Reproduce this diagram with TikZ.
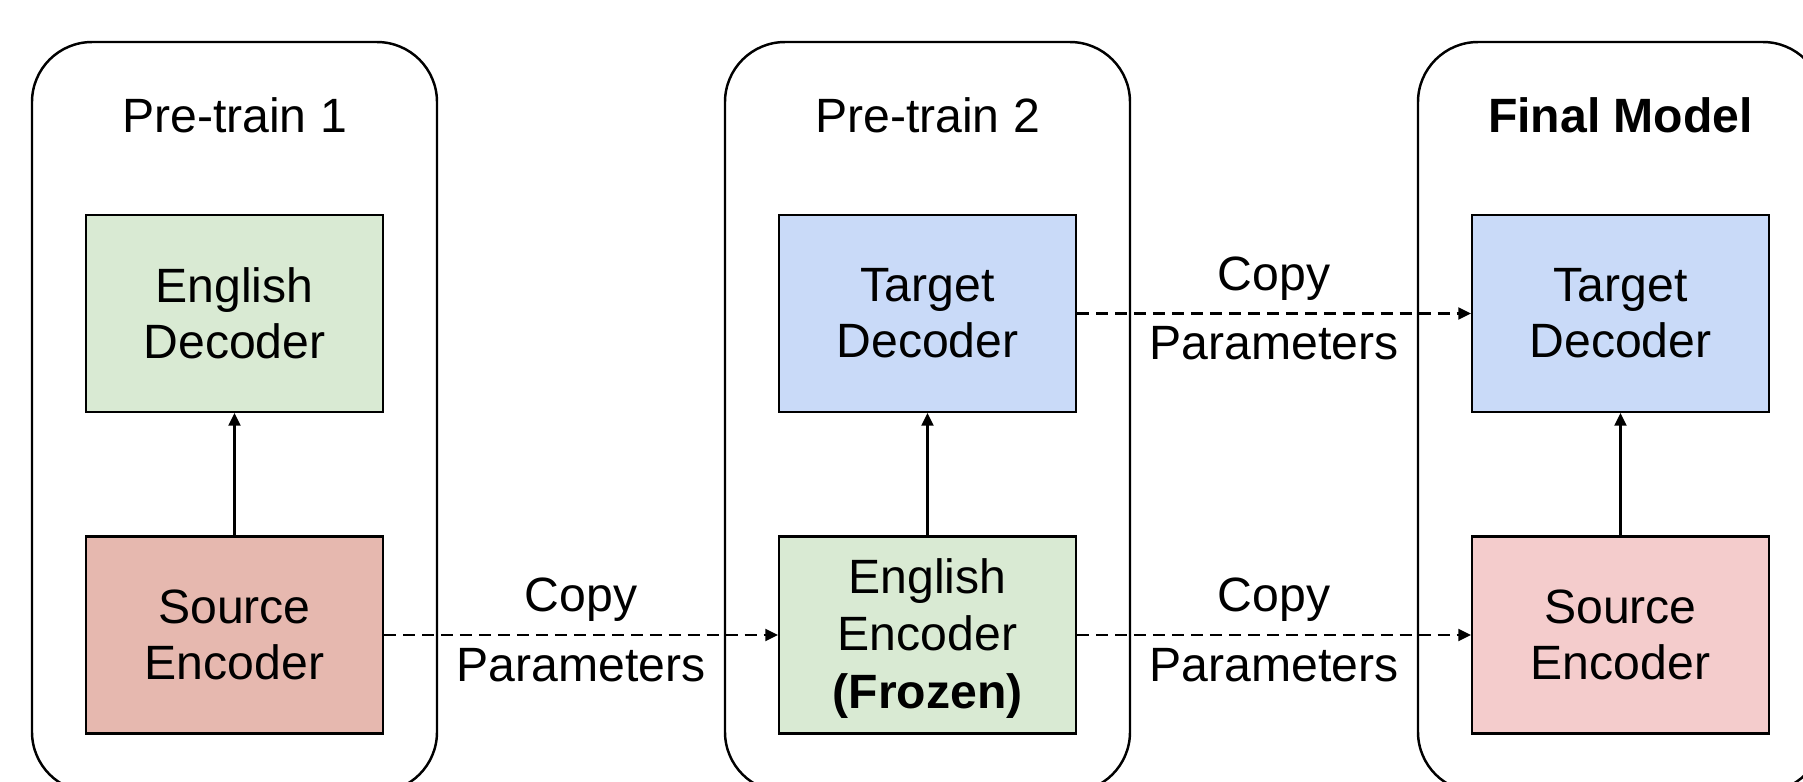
\documentclass[tikz,border=0pt]{standalone}
\usepackage{fontspec}
\setmainfont{Liberation Sans}
\usetikzlibrary{arrows.meta}
\definecolor{engreen}{HTML}{D9EAD3}
\definecolor{tgblue}{HTML}{C9DAF8}
\definecolor{srcred}{HTML}{E6B8AF}
\definecolor{srcpink}{HTML}{F4CCCC}
\begin{document}
\begin{tikzpicture}[line width=0.6pt,
  stage/.style ={draw,line width=0.7pt,rounded corners=0.6cm,minimum width=4.05cm,minimum height=7.5cm},
  block/.style ={draw,align=center,minimum width=2.97cm,minimum height=1.97cm,inner sep=0pt,
                 font=\fontsize{13.7}{16}\selectfont},
  title/.style ={font=\fontsize{13.7}{16}\selectfont},
  lbl/.style ={font=\fontsize{13.7}{16}\selectfont,inner sep=0pt},
  copyarrow/.style ={dash pattern=on 3.4pt off 2pt,-{Triangle[length=3.6pt,width=3.4pt]}},
  feedarrow/.style ={-{Triangle[length=3.6pt,width=3.4pt]}}]

\clip (0,0) rectangle (18.03,-7.81);

% stages
\node[stage] (S1) at (2.345,-4.17) {};
\node[stage] (S2) at (9.275,-4.17) {};
\node[stage] (S3) at (16.205,-4.17) {};

\node[title] (T1) at (2.345,-1.15) {Pre-train 1};
\node[title] (T2) at (9.275,-1.15) {Pre-train 2};
\node[title] (T3) at (16.205,-1.15) {\textbf{Final Model}};

% Pre-train 1
\node[block,fill=engreen] (D1) at (2.345,-3.135) {English\\Decoder};
\node[block,fill=srcred] (E1) at (2.345,-6.35) {Source\\Encoder};

% Pre-train 2
\node[block,fill=tgblue] (D2) at (9.275,-3.135) {Target\\Decoder};
\node[block,fill=engreen] (E2) at (9.275,-6.35) {\rule{0pt}{12pt}English\\Encoder\\[0.6pt]\textbf{(Frozen)}};

% Final Model
\node[block,fill=tgblue] (D3) at (16.205,-3.135) {Target\\Decoder};
\node[block,fill=srcpink] (E3) at (16.205,-6.35) {Source\\Encoder};

\draw [feedarrow] (E1) -- (D1);
\draw [feedarrow] (E2) -- (D2);
\draw [feedarrow] (E3) -- (D3);

\path (E1) edge [copyarrow] node[lbl,above=0.12cm] {Copy} node[lbl,below=0.12cm] {Parameters} (E2);
\path (E2) edge [copyarrow] node[lbl,above=0.12cm] {Copy} node[lbl,below=0.12cm] {Parameters} (E3);
\path (D2) edge [copyarrow] node[lbl,above=0.12cm] {Copy} node[lbl,below=0.12cm] {Parameters} (D3);

\end{tikzpicture}
\end{document}
